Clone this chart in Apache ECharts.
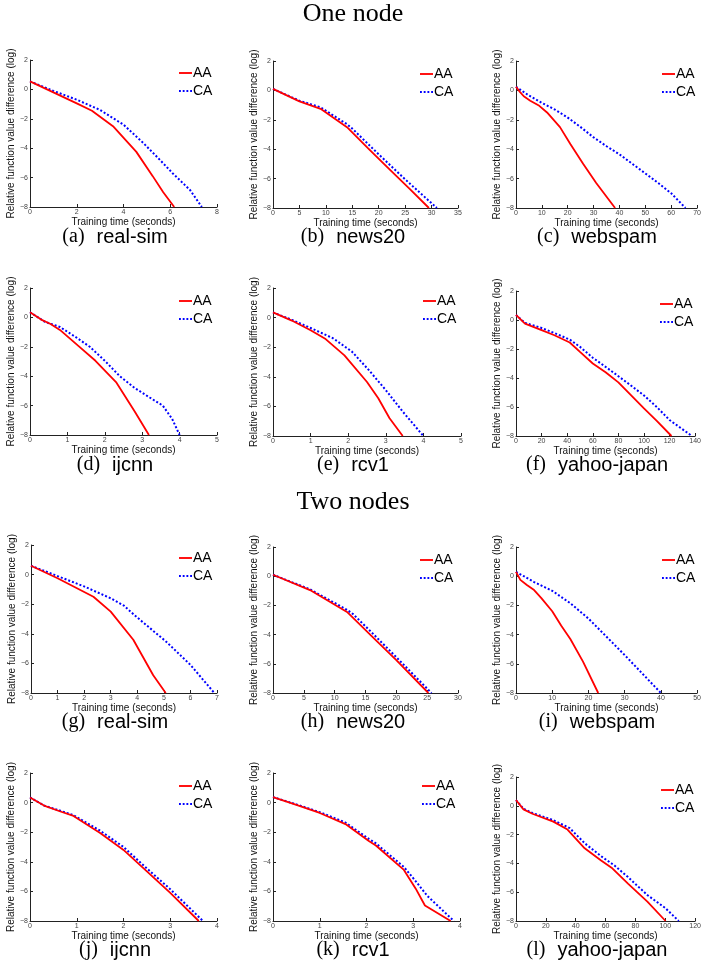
<!DOCTYPE html>
<html><head><meta charset="utf-8">
<script src="https://cdn.jsdelivr.net/npm/echarts@6/dist/echarts.min.js"></script>
<style>html,body{margin:0;padding:0;background:#fff}#c{width:704px;height:965px}</style>
</head><body><div id="c"></div><script>
// ---- data ----
const panelLetters = ['a','b','c','d','e','f','g','h','i','j','k','l'];
const datasetNames = ['real-sim','news20','webspam','ijcnn','rcv1','yahoo-japan','real-sim','news20','webspam','ijcnn','rcv1','yahoo-japan'];
const sectionTitles = ['One node','Two nodes'];
const seriesNames = ['AA','CA'];
const xMax = [8,35,70,5,5,140,7,30,50,4,4,120];
const xStep = [2,5,10,1,1,20,1,5,10,1,1,20];
const yTicks = [-8,-6,-4,-2,0,2];

const AA_a = [[0,0.55],[1,-0.2],[2,-0.95],[2.65,-1.45],[3.55,-2.5],[4.55,-4.25],[5.25,-5.9],[5.7,-7.0],[6.17,-8]];
const CA_a = [[0,0.55],[1,-0.1],[2,-0.7],[3,-1.4],[4,-2.4],[4.85,-3.65],[5.5,-4.7],[6.1,-5.7],[6.85,-6.85],[7.35,-8]];
const AA_b = [[0,0.1],[5,-0.75],[9,-1.25],[14,-2.5],[18,-3.95],[22,-5.35],[26,-6.75],[29.5,-8]];
const CA_b = [[0,0.1],[5,-0.7],[9,-1.15],[14,-2.3],[15,-2.6],[20,-4.35],[25,-6.05],[31,-8]];
const AA_c = [[0,0.25],[1.5,-0.1],[3,-0.4],[5.5,-0.7],[9,-1.05],[12,-1.5],[17,-2.5],[21,-3.65],[26,-5.0],[31,-6.3],[38.3,-8]];
const CA_c = [[0,0.25],[5,-0.35],[10,-0.85],[15,-1.3],[20,-1.85],[25,-2.5],[30,-3.2],[35,-3.8],[40,-4.35],[45,-5.0],[50,-5.65],[55,-6.3],[60,-7.0],[65.5,-8]];
const AA_d = [[0,0.35],[0.3,-0.15],[0.55,-0.45],[0.8,-0.85],[1.3,-1.95],[1.75,-2.95],[2.3,-4.4],[2.8,-6.4],[3.18,-8]];
const CA_d = [[0,0.35],[0.4,-0.3],[0.8,-0.65],[1.2,-1.3],[1.6,-2.0],[2.0,-2.95],[2.4,-4.0],[2.8,-4.8],[3.2,-5.45],[3.55,-6.0],[3.8,-6.9],[4.0,-8]];
const AA_e = [[0,0.35],[0.5,-0.2],[1.0,-0.85],[1.4,-1.45],[1.9,-2.55],[2.5,-4.35],[2.8,-5.45],[3.1,-6.8],[3.45,-8]];
const CA_e = [[0,0.35],[0.5,-0.15],[1.0,-0.7],[1.6,-1.4],[2.1,-2.3],[2.55,-3.55],[3.0,-4.9],[3.45,-6.35],[4.0,-8]];
const AA_f = [[0,0.35],[7,-0.25],[20,-0.7],[30,-1.05],[42,-1.55],[50,-2.2],[60,-3.0],[70,-3.6],[80,-4.3],[90,-5.2],[100,-6.1],[110,-6.95],[121.5,-8]];
const CA_f = [[0,0.35],[7,-0.2],[20,-0.55],[30,-0.9],[42,-1.35],[50,-1.85],[60,-2.6],[75,-3.55],[88,-4.4],[100,-5.2],[110,-6.0],[120,-6.9],[137.5,-8]];
const AA_g = [[0,0.6],[1,-0.25],[2.35,-1.5],[3.0,-2.5],[3.85,-4.4],[4.6,-6.8],[5.07,-8]];
const CA_g = [[0,0.6],[1,-0.1],[2,-0.8],[3,-1.6],[3.5,-2.1],[3.9,-2.75],[4.5,-3.65],[5.1,-4.55],[6,-6.1],[6.9,-8]];
const AA_h = [[0,0.1],[6,-0.95],[12,-2.45],[16,-4.1],[20,-5.75],[25.2,-8]];
const CA_h = [[0,0.1],[6,-0.9],[12,-2.3],[13,-2.6],[16,-3.85],[20,-5.55],[25.7,-8]];
const AA_i = [[0,0.3],[1.2,-0.25],[3,-0.6],[5,-0.95],[7,-1.5],[10,-2.4],[12.5,-3.4],[15,-4.3],[18.5,-5.85],[22.7,-8]];
const CA_i = [[0,0.3],[5,-0.4],[10,-1.0],[15,-1.85],[20,-2.9],[25,-4.15],[30,-5.4],[35,-6.7],[40,-8]];
const AA_j = [[0,0.35],[0.3,-0.2],[0.65,-0.6],[0.93,-0.9],[1.5,-2.05],[2.0,-3.2],[2.5,-4.65],[3.0,-6.1],[3.61,-8]];
const CA_j = [[0,0.35],[0.3,-0.2],[0.65,-0.55],[0.93,-0.85],[1.5,-1.9],[2.0,-3.0],[2.5,-4.45],[3.0,-5.85],[3.7,-8]];
const AA_k = [[0,0.37],[0.5,-0.15],[1.0,-0.7],[1.55,-1.45],[2.05,-2.6],[2.2,-2.9],[2.8,-4.55],[3.05,-5.8],[3.25,-6.95],[3.8,-8]];
const CA_k = [[0,0.37],[0.5,-0.12],[1.0,-0.65],[1.55,-1.35],[2.05,-2.45],[2.2,-2.75],[2.8,-4.35],[3.05,-5.3],[3.3,-6.3],[3.6,-7.2],[3.87,-8]];
const AA_l = [[0,0.4],[5,-0.25],[11,-0.55],[25,-1.1],[34.5,-1.65],[46,-2.95],[57,-3.8],[64,-4.3],[75,-5.4],[88,-6.65],[100.2,-8]];
const CA_l = [[0,0.4],[5,-0.2],[11,-0.5],[25,-1.0],[36,-1.55],[46,-2.6],[57,-3.5],[66,-4.15],[75,-4.95],[88,-6.2],[100,-7.1],[109,-8]];

const AAdata = [AA_a,AA_b,AA_c,AA_d,AA_e,AA_f,AA_g,AA_h,AA_i,AA_j,AA_k,AA_l];
const CAdata = [CA_a,CA_b,CA_c,CA_d,CA_e,CA_f,CA_g,CA_h,CA_i,CA_j,CA_k,CA_l];

// ---- layout ----
const gridBoxes = [
 [30,60,187,147],[273,61,185,147],[516,61,184,147],
 [30,288,187,147],[273,288,188,148],[516,291,182,145],
 [31,545,186,148],[273,547,185,146],[516,547,184,146],
 [30,773,187,148],[273,773,187,148],[516,777,183,144]];
const capX = [115,353,597];
const capY = [238,466,723,951];
const headTop = [1,489];

const SANS = 'Liberation Sans, Arial, Helvetica, sans-serif';
const SERIF = 'Liberation Serif, Times New Roman, serif';
const fmt = v => (v < 0 ? '\u2212' : '') + Math.abs(v);
const SOLID_ICON = 'path://M0 0H14V2H0Z';
const DOT_ICON = 'path://M0 0H2V2H0Z M4 0H6V2H4Z M8 0H10V2H8Z M12 0H14V2H12Z';

const grid = [], xAxis = [], yAxis = [], series = [], legend = [], title = [];
gridBoxes.forEach((g, i) => {
  grid.push({left: g[0], top: g[1], width: g[2], height: g[3], containLabel: false});
  xAxis.push({
    type: 'value', gridIndex: i, min: 0, max: xMax[i], interval: xStep[i],
    name: 'Training time (seconds)', nameLocation: 'middle', nameGap: 10,
    nameTextStyle: {fontFamily: SANS, fontSize: 10, color: '#111'},
    axisLine: {show: true, onZero: false, lineStyle: {color: '#222', width: 1}},
    axisTick: {show: true, inside: true, length: 3, lineStyle: {color: '#222'}},
    axisLabel: {fontFamily: SANS, fontSize: 7, color: '#444', margin: 2, formatter: fmt},
    splitLine: {show: false}
  });
  yAxis.push({
    type: 'value', gridIndex: i, min: yTicks[0], max: yTicks[yTicks.length-1], interval: yTicks[1]-yTicks[0],
    name: 'Relative function value difference (log)', nameLocation: 'middle', nameGap: 13, nameRotate: 90,
    nameTextStyle: {fontFamily: SANS, fontSize: 10, color: '#111'},
    axisLine: {show: true, onZero: false, lineStyle: {color: '#222', width: 1}},
    axisTick: {show: true, inside: true, length: 3, lineStyle: {color: '#222'}},
    axisLabel: {fontFamily: SANS, fontSize: 7, color: '#444', margin: 2, formatter: fmt},
    splitLine: {show: false}
  });
  series.push({
    name: seriesNames[0], type: 'line', xAxisIndex: i, yAxisIndex: i, data: AAdata[i],
    symbol: 'none', smooth: false, lineStyle: {color: '#ff0000', width: 1.8}, itemStyle: {color: '#ff0000'}, z: 3
  });
  series.push({
    name: seriesNames[1], type: 'line', xAxisIndex: i, yAxisIndex: i, data: CAdata[i],
    symbol: 'none', smooth: false, lineStyle: {color: '#0000ff', width: 2, type: [2, 2]}, itemStyle: {color: '#0000ff'}, z: 2
  });
  legend.push({
    data: [{name: seriesNames[0], icon: SOLID_ICON}, {name: seriesNames[1], icon: DOT_ICON}],
    orient: 'vertical', left: g[0] + g[2] - 38, top: g[1] + 6,
    itemWidth: 13, itemHeight: 2, itemGap: 4, padding: 0, selectedMode: false,
    itemStyle: {borderWidth: 0},
    textStyle: {fontFamily: SANS, fontSize: 14, color: '#000', padding: [0, 0, 0, -4], lineHeight: 14}
  });
  const col = i % 3, row = Math.floor(i / 3);
  title.push({
    text: '{p|(' + panelLetters[i] + ')}{n|' + datasetNames[i] + '}',
    left: capX[col], top: capY[row] - 11, textAlign: 'center', padding: 0,
    textStyle: {fontWeight: 'normal', rich: {
      p: {fontFamily: SERIF, fontSize: 20, fontWeight: 'normal', color: '#000'},
      n: {fontFamily: SANS, fontSize: 20, fontWeight: 'normal', color: '#000', padding: [0, 0, 0, 12]}
    }}
  });
});
sectionTitles.forEach((t, k) => {
  title.push({text: t, left: 353, top: headTop[k], textAlign: 'center', padding: 0,
    textStyle: {fontFamily: SERIF, fontSize: 26, fontWeight: 'normal', color: '#000'}});
});

const chart = echarts.init(document.getElementById('c'), null, {renderer: 'canvas'});
chart.setOption({animation: false, backgroundColor: '#fff', grid, xAxis, yAxis, series, legend, title});
</script></body></html>
